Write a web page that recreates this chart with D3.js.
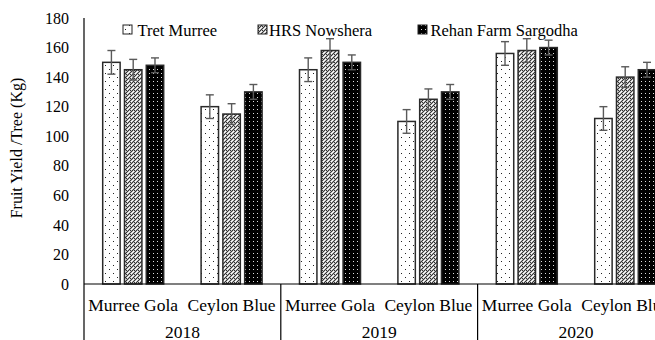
<!DOCTYPE html>
<html><head><meta charset="utf-8">
<script src="https://cdn.jsdelivr.net/npm/d3@7"></script>
<style>body{margin:0;background:#fff}svg{display:block}</style>
</head><body><svg id="c" width="655" height="340"></svg>
<script>
const years = ["2018","2019","2020"];
const varieties = ["Murree Gola","Ceylon Blue"];
const series = ["Tret Murree","HRS Nowshera","Rehan Farm Sargodha"];
// values per [year][variety] for each series
const tretMurree   = [150,120, 145,110, 156,112];
const hrsNowshera  = [145,115, 158,125, 158,140];
const rehanFarm    = [148,130, 150,130, 160,145];
const tretErr  = [8,8, 8,8, 8,8];
const hrsErr   = [7,7, 8,7, 8,7];
const rehanErr = [5,5, 5,5, 5,5];
const yTicks = [0,20,40,60,80,100,120,140,160,180];

(function(){
const FONT = "'Liberation Serif', 'Times New Roman', Times, serif";
const svg = d3.select("#c");
const defs = svg.append("defs");
const p1 = defs.append("pattern").attr("id","pTret").attr("patternUnits","userSpaceOnUse").attr("width",8).attr("height",8);
p1.append("rect").attr("width",8).attr("height",8).attr("fill","#fff");
p1.append("rect").attr("x",1).attr("y",1).attr("width",1).attr("height",1).attr("fill","#222");
p1.append("rect").attr("x",5).attr("y",5).attr("width",1).attr("height",1).attr("fill","#222");
const p2 = defs.append("pattern").attr("id","pHrs").attr("patternUnits","userSpaceOnUse").attr("width",4).attr("height",4);
p2.append("rect").attr("width",4).attr("height",4).attr("fill","#bbb");
[[0,0],[2,0],[1,1],[3,1],[0,2],[2,2],[1,3],[3,3]].forEach(([a,b],i)=>{
  p2.append("rect").attr("x",a).attr("y",b).attr("width",1).attr("height",1).attr("fill", i%3===0?"#fff":"#333");
});
const p3 = defs.append("pattern").attr("id","pRehan").attr("patternUnits","userSpaceOnUse").attr("width",4).attr("height",4);
p3.append("rect").attr("width",4).attr("height",4).attr("fill","#000");
p3.append("rect").attr("x",1).attr("y",1).attr("width",1).attr("height",1).attr("fill","#ddd");
const fills = ["url(#pTret)","url(#pHrs)","url(#pRehan)"];

const mLeft = 84, mBottom = 284, mTop = 18;
const catW = 98.4;
const cats = [];
years.forEach(yy=>varieties.forEach(v=>cats.push(yy+"|"+v)));
const x0 = d3.scaleBand().domain(cats).range([mLeft, mLeft+catW*cats.length]).padding(0);
const x1 = d3.scaleBand().domain(series).range([18.7, 79.7]).paddingInner(0.2);
const y = d3.scaleLinear().domain([0,180]).range([mBottom, mTop]);

const vals = [tretMurree, hrsNowshera, rehanFarm];
const errs = [tretErr, hrsErr, rehanErr];
const data = [];
cats.forEach((c,i)=>series.forEach((s,j)=>data.push({c, s, j, v: vals[j][i], e: errs[j][i]})));

svg.selectAll("rect.bar").data(data).enter().append("rect").attr("class","bar")
  .attr("x", d=>x0(d.c)+x1(d.s)).attr("width", x1.bandwidth())
  .attr("y", d=>y(d.v)).attr("height", d=>y(0)-y(d.v))
  .attr("fill", d=>fills[d.j]).attr("stroke","#2a2a2a").attr("stroke-width",1.5);

const eg = svg.append("g").attr("stroke","#5a5a5a").attr("stroke-width",1.4).attr("fill","none");
data.forEach(d=>{
  const cx = x0(d.c)+x1(d.s)+x1.bandwidth()/2;
  eg.append("line").attr("x1",cx).attr("x2",cx).attr("y1",y(d.v+d.e)).attr("y2",y(d.v-d.e));
  eg.append("line").attr("x1",cx-4).attr("x2",cx+4).attr("y1",y(d.v+d.e)).attr("y2",y(d.v+d.e));
  eg.append("line").attr("x1",cx-4).attr("x2",cx+4).attr("y1",y(d.v-d.e)).attr("y2",y(d.v-d.e));
});

const ya = svg.append("g").attr("transform",`translate(${mLeft},0)`)
  .call(d3.axisLeft(y).tickValues(yTicks).tickSize(0).tickPadding(15));
ya.attr("font-family", null).attr("font-size", null);
ya.select(".domain").remove();
ya.selectAll("text").style("font-size","16px").style("font-family",FONT).attr("fill","#000");
svg.append("line").attr("x1",mLeft).attr("x2",mLeft).attr("y1",mTop).attr("y2",340).attr("stroke","#000").attr("stroke-width",1.2);
svg.append("line").attr("x1",mLeft).attr("x2",655).attr("y1",mBottom).attr("y2",mBottom).attr("stroke","#000").attr("stroke-width",1.2);

svg.selectAll("text.cat").data(cats).enter().append("text").attr("class","cat")
  .attr("x", d=>x0(d)+x0.bandwidth()/2).attr("y", 311).attr("text-anchor","middle")
  .style("font-size","17.5px").style("font-family",FONT).text(d=>d.split("|")[1]);
years.forEach((yr,i)=>{
  const xs = x0(yr+"|"+varieties[0]);
  const xe = x0(yr+"|"+varieties[1]) + x0.bandwidth();
  if(i>0) svg.append("line").attr("x1",xs).attr("x2",xs).attr("y1",mBottom).attr("y2",340).attr("stroke","#000").attr("stroke-width",1.2);
  svg.append("text").attr("x",(xs+xe)/2).attr("y",338).attr("text-anchor","middle")
    .style("font-size","17.5px").style("font-family",FONT).text(yr);
});

svg.append("text").attr("transform","translate(22,148) rotate(-90)").attr("text-anchor","middle")
  .style("font-size","16px").style("font-family",FONT).text("Fruit Yield /Tree (Kg)");

const legSq = [123, 258, 418];
const legTx = [137.5, 269, 430.5];
series.forEach((s,j)=>{
  svg.append("rect").attr("x",legSq[j]).attr("y",25).attr("width",9).attr("height",9)
    .attr("fill",fills[j]).attr("stroke","#222").attr("stroke-width",1);
  svg.append("text").attr("x",legTx[j]).attr("y",35.5)
    .style("font-size","16.5px").style("font-family",FONT).text(s);
});
})();
</script></body></html>
